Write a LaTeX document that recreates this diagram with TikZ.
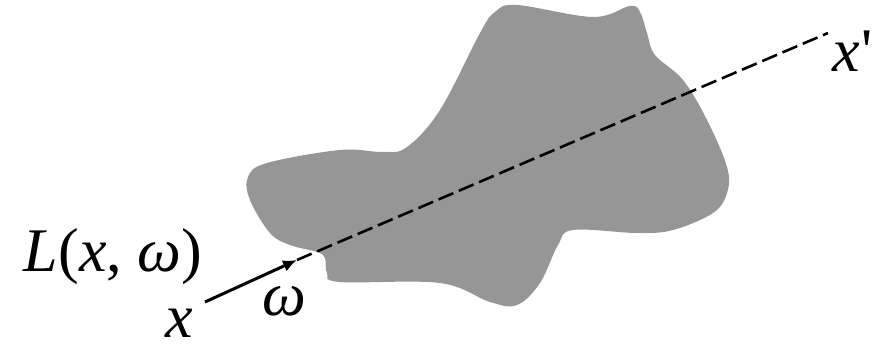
\documentclass[tikz,border=0pt]{standalone}
\definecolor{blobgray}{RGB}{150,150,150}
\usepackage{fontspec}
\setmainfont{Liberation Serif}
\usepackage{tikz}
\usetikzlibrary{arrows.meta,positioning,calc}

\newcommand\straightprime{\XeTeXglyph\XeTeXglyphindex "quotesingle"\relax}

\tikzset{
  biglabel/.style={font=\fontsize{31}{31}\selectfont\itshape, inner sep=0pt},
  rayline/.style={line width=1.3pt, dash pattern=on 8pt off 3pt}
}

\begin{document}
\begin{tikzpicture}[x=0.5pt, y=-0.5pt]
    \useasboundingbox (0,0) rectangle (877,351);
    % the scattering medium
    \fill[blobgray] plot[smooth cycle, tension=0.6] coordinates {
      (517,5) (593,17) (630,6) (640,12) (647,33) (655,55) (683,80) (707,120)
      (727,167) (727,193) (713,213) (673,230) (637,233) (573,230) (558,245)
      (540,283) (517,305) (490,302) (440,283) (340,282) (327,273) (325,258)
      (317,252) (290,245) (270,233) (250,200) (248,177) (267,163) (340,150)
      (383,152) (407,147) (440,110) (480,33) (495,12)};
    % ray through the medium
    \coordinate (xpt) at (205,302);
    \coordinate (entry) at (297,260);
    \coordinate (xend) at (828,33);
    \draw[line width=1.5pt, -{Latex[length=7pt, width=6pt]}] (xpt) -- (entry);
    \draw[rayline] (entry) -- (xend);
    % labels
    \node[biglabel] (radiance) at (113,257) {L\upshape(\itshape x\upshape, \itshape ω\upshape)};
    \node[biglabel] (xlabel) at (179,323) {x};
    \node[biglabel] (omega) at (284,301) {ω};
    \node[biglabel, anchor=west] (xprime) at (832,51) {x\kern1pt\upshape\straightprime};
\end{tikzpicture}
\end{document}
